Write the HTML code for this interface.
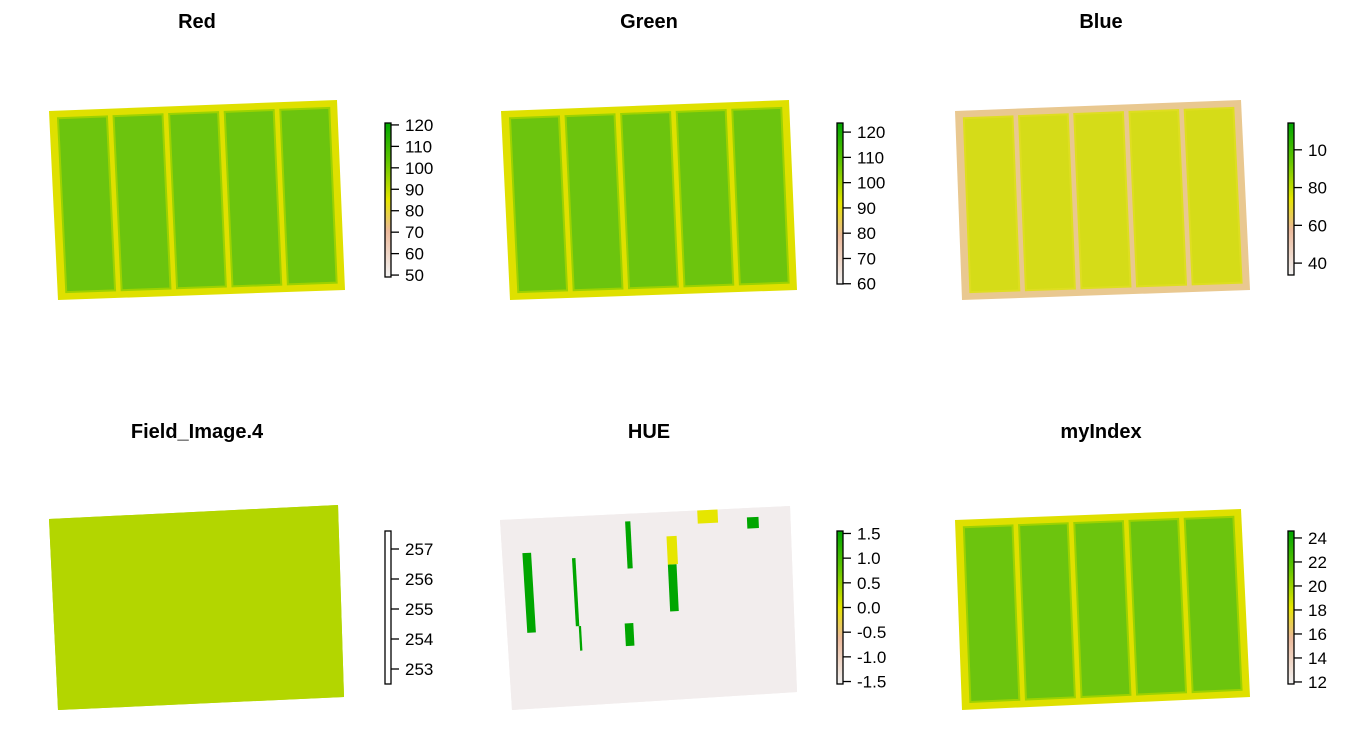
<!DOCTYPE html>
<html><head><meta charset="utf-8"><style>
body{margin:0;background:#fff;}
svg{display:block;font-family:"Liberation Sans",Arial,sans-serif;}
.t{font-weight:bold;font-size:20px;text-anchor:middle;}
.l{font-size:17px;}
</style></head><body>
<svg id="s" width="1346" height="746">
<defs>
<linearGradient id="terrain" x1="0" y1="1" x2="0" y2="0">
<stop offset="0" stop-color="#f2f2f2"/><stop offset="0.3" stop-color="#ecb99a"/>
<stop offset="0.5" stop-color="#e6e600"/><stop offset="0.75" stop-color="#63c600"/><stop offset="1" stop-color="#00a600"/>
</linearGradient>
</defs>
</svg>
<script>
const titles=["Red","Green","Blue","Field_Image.4","HUE","myIndex"];
const redTicks=[50,60,70,80,90,100,110,120];
const greenTicks=[60,70,80,90,100,110,120];
const blueTicks=["40","60","80","10"];
const blueVals=[40,60,80,100];
const fieldTicks=[253,254,255,256,257];
const hueTicks=["-1.5","-1.0","-0.5","0.0","0.5","1.0","1.5"];
const hueVals=[-1.5,-1,-0.5,0,0.5,1,1.5];
const idxTicks=[12,14,16,18,20,22,24];
const NS="http://www.w3.org/2000/svg";
const svg=document.getElementById('s');
function mk(tag,at,parent){const e=document.createElementNS(NS,tag);for(const k in at)e.setAttribute(k,at[k]);(parent||svg).appendChild(e);return e;}
const panels=[
 {title:titles[0],tx:197,ty:22,q:[[49,111],[337,100],[345,290],[58,300]],fill:"#6cc40e",edge:"#dfe000",bar:[385,123,277],ticks:redTicks,labs:redTicks,range:[49.1,120.9],strips:true,grad:"url(#terrain)"},
 {title:titles[1],tx:649,ty:22,q:[[501,111],[789,100],[797,290],[510,300]],fill:"#6cc40e",edge:"#dfe000",bar:[837,123,284],ticks:greenTicks,labs:greenTicks,range:[59.9,123.6],strips:true,grad:"url(#terrain)"},
 {title:titles[2],tx:1101,ty:22,q:[[955,111],[1241,100],[1250,290],[962,300]],fill:"#d5dc18",edge:"#e9c890",bar:[1288,123,275],ticks:blueVals,labs:blueTicks,range:[33.7,114.2],strips:true,grad:"url(#terrain)"},
 {title:titles[3],tx:197,ty:432,q:[[49,519],[338,505],[344,697],[58,710]],fill:"#b3d600",edge:"#b3d600",bar:[385,531,684],ticks:fieldTicks,labs:fieldTicks,range:[252.5,257.6],strips:false,grad:"#ffffff"},
 {title:titles[4],tx:649,ty:432,q:[[500,520],[790,506],[797,692],[512,710]],fill:"#f2eded",edge:"#f2eded",bar:[837,531,684],ticks:hueVals,labs:hueTicks,range:[-1.55,1.55],strips:false,grad:"url(#terrain)"},
 {title:titles[5],tx:1101,ty:432,q:[[955,520],[1241,509],[1250,697],[962,710]],fill:"#6cc40e",edge:"#dfe000",bar:[1288,531,684],ticks:idxTicks,labs:idxTicks,range:[11.83,24.58],strips:true,grad:"url(#terrain)"}
];
function bil(q,u,v){const x=(1-u)*(1-v)*q[0][0]+u*(1-v)*q[1][0]+u*v*q[2][0]+(1-u)*v*q[3][0];const y=(1-u)*(1-v)*q[0][1]+u*(1-v)*q[1][1]+u*v*q[2][1]+(1-u)*v*q[3][1];return x+","+y;}
function poly(q,u0,v0,u1,v1){return [bil(q,u0,v0),bil(q,u1,v0),bil(q,u1,v1),bil(q,u0,v1)].join(" ");}
panels.forEach((p,i)=>{
 const g=mk('g',{});
 
 
 const t=mk('text',{x:p.tx,y:p.ty+6,class:'t'},g);t.textContent=p.title;
 
 
 const img=mk('polygon',{points:poly(p.q,0,0,1,1),fill:p.edge},g);
 
 
 if(p.strips){
  for(let k=0;k<5;k++){const u0=0.03+k*0.193,u1=u0+0.17;
   const s=mk('polygon',{points:poly(p.q,u0,0.04,u1,0.96),fill:p.fill,stroke:i==2?"#dede20":"#9cd200","stroke-width":2},g);
   
   }
 } else if(i==4){
  mk('polygon',{points:poly(p.q,0,0,1,1),fill:p.fill},g);
  const spots=[[0.07,0.18,0.03,0.42,"#00a600"],[0.24,0.22,0.012,0.36,"#00a600"],[0.43,0.04,0.018,0.25,"#00a600"],[0.57,0.28,0.03,0.25,"#00a600"],[0.57,0.13,0.035,0.15,"#e6e600"],[0.85,0.05,0.04,0.06,"#00a600"],[0.25,0.58,0.008,0.13,"#00a600"],[0.41,0.58,0.03,0.12,"#00a600"],[0.68,0.0,0.07,0.07,"#e6e600"]];
  spots.forEach(s=>{const r=mk('polygon',{points:poly(p.q,s[0],s[1],s[0]+s[2],s[1]+s[3]),fill:s[4]},g);
   
   });
 } else {
  mk('polygon',{points:poly(p.q,0,0,1,1),fill:p.fill},g);
 }
 const [bx,by0,by1]=p.bar;
 const sc=v=>by1-(v-p.range[0])/(p.range[1]-p.range[0])*(by1-by0);
 const bar=mk('rect',{x:bx,y:by0,width:6,height:by1-by0,fill:p.grad,stroke:"#000","stroke-width":1.3},g);
 
 
 p.ticks.forEach((v,j)=>{const y=sc(v);
  mk('line',{x1:bx+6,x2:bx+14,y1:y,y2:y,stroke:"#000","stroke-width":1.3},g);
  const l=mk('text',{x:bx+20,y:y+6,class:'l'},g);l.textContent=p.labs[j];
  
  });
});
</script>
</body></html>
